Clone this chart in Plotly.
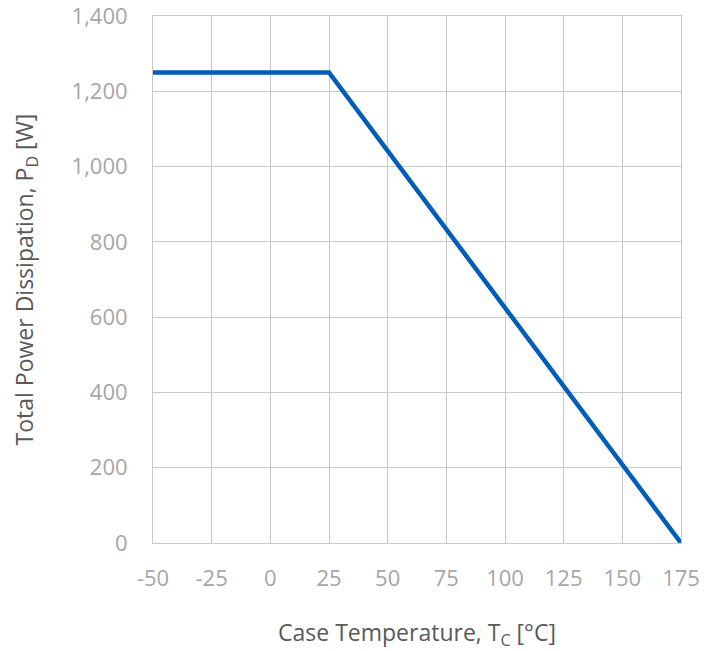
import plotly.graph_objects as go

# Power derating curve: flat to 25 °C, then linear down to zero at 175 °C
case_temp_c = [-50, 25, 175]
power_w = [1250, 1250, 0]

x_ticks = [-50, -25, 0, 25, 50, 75, 100, 125, 150, 175]
y_ticks = [0, 200, 400, 600, 800, 1000, 1200, 1400]

LINE_BLUE = "#005EB8"
GRID = "#c8c8c8"
TICK_TEXT = "#a6a6a6"
TITLE_TEXT = "#595959"
FONT = "Open Sans"

fig = go.Figure(
    go.Scatter(
        x=case_temp_c,
        y=power_w,
        mode="lines",
        line=dict(color=LINE_BLUE, width=4.5),
        hoverinfo="x+y",
    )
)

fig.update_layout(
    width=717,
    height=651,
    margin=dict(l=153, r=36, t=16, b=108),
    paper_bgcolor="white",
    plot_bgcolor="white",
    showlegend=False,
    separators=".,",
    font=dict(family=FONT),
)

fig.update_xaxes(
    range=[-50, 175],
    tickvals=x_ticks,
    ticktext=[str(v) for v in x_ticks],
    showgrid=True,
    gridcolor=GRID,
    gridwidth=1,
    zeroline=False,
    showline=True,
    linecolor=GRID,
    linewidth=1,
    mirror=True,
    ticks="",
    automargin=False,
    ticklabeloverflow="allow",
    ticklabelstandoff=16,
    tickfont=dict(family=FONT, size=22, color=TICK_TEXT),
    title=dict(
        text="Case Temperature, T<sub>C</sub> [°C]",
        font=dict(family=FONT, size=23, color=TITLE_TEXT),
        standoff=33,
    ),
)

fig.update_yaxes(
    range=[0, 1400],
    tickvals=y_ticks,
    tickformat=",d",
    showgrid=True,
    gridcolor=GRID,
    gridwidth=1,
    zeroline=False,
    showline=True,
    linecolor=GRID,
    linewidth=1,
    mirror=True,
    ticks="",
    automargin=False,
    ticklabeloverflow="allow",
    ticklabelstandoff=20,
    tickfont=dict(family=FONT, size=22, color=TICK_TEXT),
    title=dict(
        text="Total Power Dissipation, P<sub>D</sub> [W]",
        font=dict(family=FONT, size=23, color=TITLE_TEXT),
        standoff=31,
    ),
)

fig.write_html("out.html")
